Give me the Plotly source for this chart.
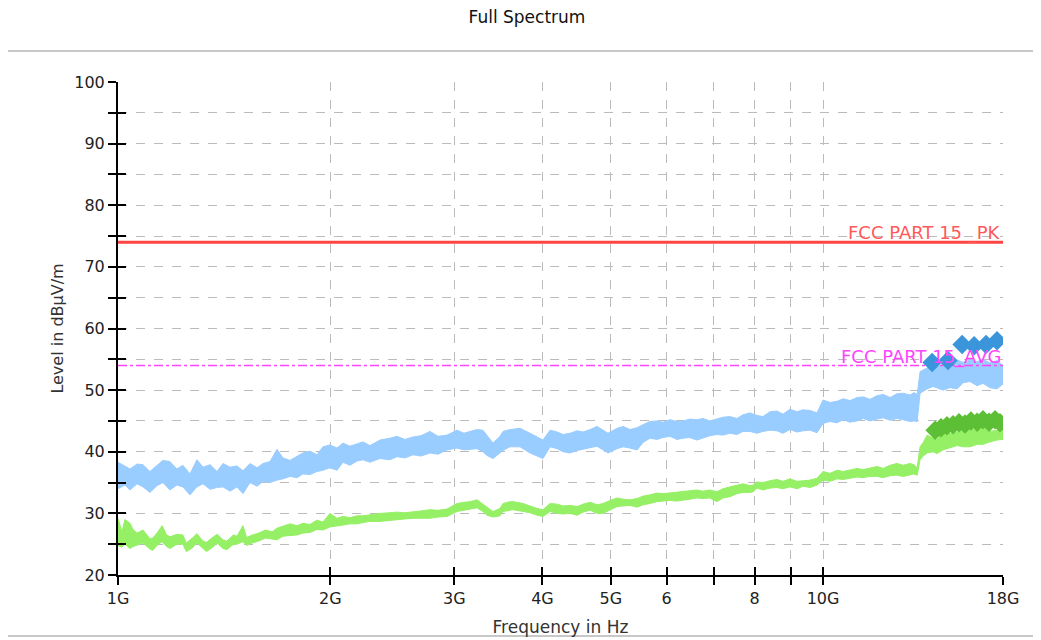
import plotly.graph_objects as go

# ---------------- data (frequency in GHz, level in dBµV/m) ----------------
pk_freq = [1.000, 1.023, 1.040, 1.064, 1.085, 1.110, 1.136, 1.158, 1.185, 1.212,
           1.236, 1.265, 1.294, 1.320, 1.351, 1.382, 1.409, 1.442, 1.475, 1.504,
           1.539, 1.575, 1.606, 1.643, 1.681, 1.714, 1.754, 1.795, 1.829, 1.872,
           1.915, 1.953, 1.998, 2.045, 2.085, 2.133, 2.183, 2.226, 2.277, 2.353,
           2.431, 2.487, 2.553, 2.621, 2.690, 2.770, 2.844, 2.929, 3.026, 3.096,
           3.157, 3.230, 3.293, 3.337, 3.403, 3.482, 3.516, 3.597, 3.717, 3.840,
           3.929, 4.007, 4.101, 4.196, 4.279, 4.378, 4.479, 4.567, 4.673, 4.781,
           4.876, 4.955, 5.103, 5.204, 5.324, 5.447, 5.556, 5.682, 5.814, 5.929,
           6.066, 6.207, 6.330, 6.473, 6.623, 6.754, 6.911, 7.071, 7.212, 7.378,
           7.549, 7.699, 7.877, 8.059, 8.218, 8.409, 8.603, 8.774, 8.976, 9.185,
           9.366, 9.585, 9.806, 10.00, 10.23, 10.47, 10.68, 10.92, 11.18, 11.40,
           11.66, 11.93, 12.17, 12.45, 12.73, 12.99, 13.29, 13.46, 13.60, 13.73,
           14.05, 14.32, 14.80, 15.14, 15.49, 15.80, 16.16, 16.54, 16.86, 17.25,
           17.65, 18.00]
pk_high = [38.3, 37.6, 37.2, 38.0, 37.9, 36.8, 37.7, 38.6, 38.4, 37.2,
           37.8, 36.4, 38.7, 37.5, 37.9, 36.8, 38.1, 37.5, 37.7, 36.9,
           38.1, 37.4, 38.1, 38.4, 40.4, 39.0, 38.6, 39.2, 39.8, 40.1,
           39.5, 40.8, 41.1, 40.6, 41.4, 40.9, 41.3, 41.6, 41.0, 41.9,
           42.2, 42.5, 42.0, 42.4, 42.6, 43.3, 42.5, 42.7, 43.5, 43.0,
           43.3, 43.6, 43.5, 42.6, 41.4, 42.5, 43.3, 43.6, 43.8, 43.0,
           42.4, 41.9, 43.5, 43.2, 42.8, 43.0, 43.4, 43.2, 43.6, 44.1,
           43.5, 43.0, 43.8, 44.1, 43.6, 43.9, 44.4, 44.9, 45.0, 44.8,
           45.2, 44.9, 45.0, 45.3, 45.2, 45.4, 45.0, 45.3, 45.6, 45.7,
           45.4, 46.0, 46.3, 45.9, 45.7, 46.5, 46.6, 46.1, 46.9, 46.5,
           46.8, 46.7, 46.3, 48.4, 48.0, 48.2, 48.6, 48.3, 48.8, 48.9,
           48.5, 49.1, 49.3, 48.8, 49.4, 49.5, 49.2, 49.6, 49.3, 53.0,
           53.6, 53.4, 54.2, 53.8, 54.9, 54.5, 54.9, 54.6, 55.0, 54.4,
           54.8, 54.0]
pk_low = [34.0, 34.6, 33.8, 34.8, 34.3, 33.4, 34.5, 35.0, 33.8, 34.6,
          34.3, 33.0, 34.3, 34.8, 33.9, 34.2, 34.3, 33.6, 34.3, 33.2,
          35.0, 34.4, 35.2, 35.0, 35.4, 35.6, 36.0, 35.8, 36.4, 36.3,
          36.8, 37.0, 37.4, 37.0, 38.3, 37.8, 38.5, 38.7, 38.3, 38.9,
          38.7, 39.2, 39.0, 39.5, 39.3, 39.8, 39.6, 40.3, 40.6, 40.3,
          40.4, 40.5, 40.0, 39.4, 38.9, 39.8, 40.2, 40.8, 40.8, 39.8,
          39.3, 38.9, 40.8, 40.5, 40.0, 39.8, 40.2, 40.4, 40.6, 40.9,
          40.3, 39.8, 40.5, 40.8, 40.6, 40.3, 41.5, 42.2, 42.0, 42.3,
          42.5, 42.0, 42.2, 42.3, 41.9, 42.2, 42.6, 42.8, 42.7, 43.0,
          42.8, 43.3, 43.3, 43.0, 43.3, 43.5, 43.4, 43.0, 43.6, 43.2,
          43.4, 43.5, 43.1, 44.6, 44.9, 44.7, 45.2, 44.8, 45.0, 45.4,
          45.0, 45.3, 45.5, 45.1, 45.4, 45.2, 44.9, 45.0, 44.9, 49.5,
          50.2, 50.6, 50.0, 50.4, 50.2, 51.2, 51.4, 50.7, 51.1, 50.4,
          50.2, 51.0]

av_freq = [1.000, 1.013, 1.023, 1.040, 1.050, 1.064, 1.085, 1.110, 1.120, 1.136,
           1.155, 1.172, 1.185, 1.212, 1.236, 1.250, 1.275, 1.294, 1.320, 1.335,
           1.366, 1.382, 1.409, 1.427, 1.458, 1.475, 1.504, 1.522, 1.551, 1.583,
           1.619, 1.654, 1.681, 1.714, 1.754, 1.795, 1.829, 1.872, 1.915, 1.953,
           1.998, 2.045, 2.085, 2.133, 2.183, 2.226, 2.277, 2.353, 2.431, 2.487,
           2.553, 2.621, 2.690, 2.770, 2.844, 2.929, 3.026, 3.096, 3.157, 3.230,
           3.293, 3.337, 3.403, 3.482, 3.516, 3.597, 3.633, 3.717, 3.754, 3.840,
           3.929, 4.007, 4.101, 4.196, 4.279, 4.378, 4.479, 4.567, 4.673, 4.781,
           4.876, 4.987, 5.103, 5.204, 5.324, 5.447, 5.556, 5.682, 5.814, 5.929,
           6.066, 6.207, 6.330, 6.473, 6.623, 6.754, 6.911, 7.071, 7.212, 7.378,
           7.549, 7.699, 7.877, 7.958, 8.059, 8.218, 8.409, 8.603, 8.774, 8.976,
           9.185, 9.366, 9.585, 9.806, 10.00, 10.23, 10.47, 10.68, 10.92, 11.18,
           11.40, 11.66, 11.93, 12.17, 12.45, 12.73, 12.99, 13.29, 13.46, 13.60,
           13.73, 13.87, 14.05, 14.32, 14.51, 14.80, 15.14, 15.49, 15.80, 16.16,
           16.54, 16.86, 17.25, 17.65, 18.00]
av_high = [29.2, 27.0, 29.0, 28.4, 27.4, 26.8, 27.3, 25.9, 26.0, 26.8,
           28.0, 26.5, 26.2, 26.6, 26.5, 25.2, 26.0, 26.7, 25.5, 25.3,
           26.2, 26.6, 25.7, 25.5, 26.5, 26.3, 28.0, 26.1, 26.5, 26.8,
           27.3, 27.0, 27.6, 27.9, 28.3, 28.0, 28.4, 28.2, 28.9, 28.6,
           30.0, 29.2, 29.5, 29.3, 29.6, 29.6, 29.8, 30.0, 30.1, 30.2,
           30.1, 30.2, 30.4, 30.6, 30.5, 30.7, 31.6, 31.8, 31.9, 32.2,
           31.5, 30.9, 30.3, 30.8, 31.6, 31.9, 31.9, 31.7, 31.6, 31.2,
           30.8, 30.6, 31.6, 31.5, 31.2, 31.3, 31.1, 31.5, 31.8, 31.4,
           31.6, 32.1, 32.5, 32.3, 32.2, 32.4, 32.8, 33.0, 33.3, 33.2,
           33.3, 33.4, 33.6, 33.7, 33.8, 33.6, 33.8, 33.5, 34.0, 34.3,
           34.6, 34.8, 34.5, 34.6, 35.1, 35.0, 35.3, 35.5, 35.2, 35.6,
           35.2, 35.3, 35.4, 35.7, 36.8, 36.5, 37.0, 36.8, 37.0, 37.3,
           37.1, 37.4, 37.6, 37.3, 37.8, 38.1, 37.8, 38.1, 37.9, 37.4,
           40.8, 41.5, 42.7, 42.2, 42.0, 43.5, 43.0, 43.2, 43.6, 43.8,
           43.4, 44.0, 43.3, 43.5, 43.8]
av_low = [24.8, 24.5, 25.0, 24.3, 24.6, 24.8, 25.2, 24.2, 24.0, 24.8,
          25.4, 24.6, 24.3, 25.0, 25.0, 23.8, 24.4, 25.2, 24.2, 23.8,
          24.6, 25.2, 24.3, 24.1, 25.0, 25.0, 25.4, 24.8, 25.2, 25.5,
          26.0, 25.8, 25.7, 26.3, 26.4, 26.5, 26.8, 26.9, 27.4, 27.3,
          27.8, 27.9, 28.1, 28.3, 28.3, 28.5, 28.7, 28.7, 28.9, 29.0,
          29.1, 29.2, 29.2, 29.2, 29.4, 29.5, 30.3, 30.5, 30.6, 30.9,
          30.3, 29.7, 29.4, 29.6, 30.3, 30.5, 30.6, 30.4, 30.3, 30.1,
          29.7, 29.5, 30.3, 30.0, 29.9, 30.0, 29.7, 30.2, 30.5, 30.0,
          30.0, 30.6, 31.1, 31.2, 31.3, 31.0, 31.4, 31.6, 31.9, 32.0,
          32.1, 32.0, 32.1, 32.3, 32.5, 32.4, 32.5, 31.9, 32.5, 32.7,
          33.2, 33.4, 33.4, 33.5, 34.1, 33.8, 34.1, 34.2, 34.0, 34.3,
          34.0, 34.4, 34.2, 34.6, 35.4, 35.2, 35.6, 35.5, 35.7, 35.9,
          35.8, 36.0, 36.0, 35.8, 36.1, 36.2, 36.0, 36.2, 36.4, 36.2,
          38.7, 39.3, 39.8, 40.0, 39.7, 40.3, 40.6, 41.0, 40.8, 40.8,
          41.2, 41.2, 41.6, 41.9, 42.0]

pk_final_freq = [14.28, 15.04, 15.75, 16.38, 17.03, 17.65]
pk_final_level = [54.5, 54.8, 57.4, 57.2, 57.4, 58.0]

av_final_freq = [14.42, 14.70, 14.99, 15.29, 15.59, 15.90, 16.21, 16.54, 16.86, 17.20, 17.54, 17.82]
av_final_level = [43.5, 43.9, 44.2, 44.4, 44.7, 44.5, 45.0, 44.8, 45.2, 44.8, 45.2, 44.7]

limit_freq = [1.0, 18.0]
limit_pk = [74.0, 74.0]
limit_avg = [54.0, 54.0]
limit_pk_label = "FCC PART 15 _PK"
limit_avg_label = "FCC PART 15_AVG"

x_tickvals = [1, 2, 3, 4, 5, 6, 7, 8, 9, 10, 18]
x_ticktext = ["1G", "2G", "3G", "4G", "5G", "6", "", "8", "", "10G", "18G"]
y_tickvals = list(range(20, 101, 5))
y_ticktext = [str(v) if v % 10 == 0 else "" for v in y_tickvals]

# ---------------- figure ----------------
FONT = "DejaVu Sans"
PK_COL = "#99ccff"
AV_COL = "#95f065"

# page has an 8px body margin: figure is placed at (8, 8) on screen
OFF = 8
W, H = 1041 - OFF, 640 - OFF
PL, PR, PT, PB = 118 - OFF, 1003 - OFF, 82 - OFF, 575 - OFF   # plot area in figure px

fig = go.Figure()

# peak band
fig.add_trace(go.Scatter(x=pk_freq, y=pk_low, mode="lines",
                         line=dict(color=PK_COL, width=1), showlegend=False, hoverinfo="skip"))
fig.add_trace(go.Scatter(x=pk_freq, y=pk_high, mode="lines", fill="tonexty",
                         fillcolor=PK_COL, line=dict(color=PK_COL, width=1),
                         showlegend=False, hoverinfo="skip"))
# average band
fig.add_trace(go.Scatter(x=av_freq, y=av_low, mode="lines",
                         line=dict(color=AV_COL, width=1), showlegend=False, hoverinfo="skip"))
fig.add_trace(go.Scatter(x=av_freq, y=av_high, mode="lines", fill="tonexty",
                         fillcolor=AV_COL, line=dict(color=AV_COL, width=1),
                         showlegend=False, hoverinfo="skip"))

# limit lines
fig.add_trace(go.Scatter(x=limit_freq, y=limit_pk, mode="lines",
                         line=dict(color="#ff4444", width=3), showlegend=False))
fig.add_trace(go.Scatter(x=limit_freq, y=limit_avg, mode="lines",
                         line=dict(color="#ff44ff", width=1.5, dash="dashdot"), showlegend=False))

# final measurement markers
fig.add_trace(go.Scatter(x=av_final_freq, y=av_final_level, mode="markers",
                         marker=dict(symbol="diamond", size=15, color="#5cbf35"),
                         showlegend=False))
fig.add_trace(go.Scatter(x=pk_final_freq, y=pk_final_level, mode="markers",
                         marker=dict(symbol="diamond", size=15, color="#3a95da"),
                         showlegend=False))

# dummy trace for inner tick axes
fig.add_trace(go.Scatter(x=[limit_freq[0]], y=[y_tickvals[0]], xaxis="x2", yaxis="y2",
                         mode="markers", marker=dict(opacity=0), showlegend=False,
                         hoverinfo="skip"))

xrange = [0, 1.25527]
common_x = dict(type="log", range=xrange, tickvals=x_tickvals)
common_y = dict(range=[20, 100], tickvals=y_tickvals)

fig.update_layout(
    width=W, height=H,
    margin=dict(l=PL, r=W - PR, t=PT, b=H - PB, autoexpand=False),
    paper_bgcolor="white", plot_bgcolor="white",
    font=dict(family=FONT, color="#222222"),
    title=dict(text="Full Spectrum", x=(527 - 118) / 885, xref="paper", xanchor="center",
               y=1 - (17 - OFF) / H, yref="container", yanchor="middle",
               font=dict(family=FONT, size=17, color="#111111")),
    xaxis=dict(**common_x, ticktext=x_ticktext, ticks="outside", ticklen=8,
               tickwidth=2, tickcolor="black", showline=True, linecolor="black",
               linewidth=2, showgrid=True, gridcolor="#bbbbbb", griddash="dash",
               gridwidth=1, zeroline=False, tickfont=dict(size=16, color="#222222"),
               title=dict(text="Frequency in Hz", font=dict(size=17, color="#333333"),
                          standoff=14)),
    yaxis=dict(**common_y, ticktext=y_ticktext, ticks="outside", ticklen=8,
               tickwidth=2, tickcolor="black", showline=True, linecolor="black",
               linewidth=2, showgrid=True, gridcolor="#bbbbbb", griddash="dash",
               gridwidth=1, zeroline=False, tickfont=dict(size=16, color="#222222"),
               title=dict(text="Level in dBµV/m", font=dict(size=16, color="#333333"),
                          standoff=7)),
    xaxis2=dict(**common_x, overlaying="x", anchor="y2", ticks="inside", ticklen=8,
                tickwidth=2, tickcolor="black", showticklabels=False, showgrid=False,
                showline=False, zeroline=False),
    yaxis2=dict(**common_y, overlaying="y", anchor="x2", ticks="inside", ticklen=8,
                tickwidth=2, tickcolor="black", showticklabels=False, showgrid=False,
                showline=False, zeroline=False),
    shapes=[dict(type="rect", xref="paper", yref="paper",
                 x0=(4 - 118) / 885, x1=(1037 - 118) / 885,
                 y0=(575 - 636) / 493, y1=(575 - 51) / 493,
                 line=dict(color="#c8c8c8", width=2), fillcolor="rgba(0,0,0,0)",
                 layer="below")],
    annotations=[
        dict(x=1, xref="paper", y=limit_pk[0], yref="y", text=limit_pk_label,
             xanchor="right", yanchor="bottom", showarrow=False, yshift=-4,
             font=dict(family=FONT, size=18, color="#ff5a5a")),
        dict(x=1, xref="paper", y=limit_avg[0], yref="y", text=limit_avg_label,
             xanchor="right", yanchor="bottom", showarrow=False, yshift=-5,
             font=dict(family=FONT, size=18, color="#ff44ff")),
    ],
)

fig.write_html("out.html")
